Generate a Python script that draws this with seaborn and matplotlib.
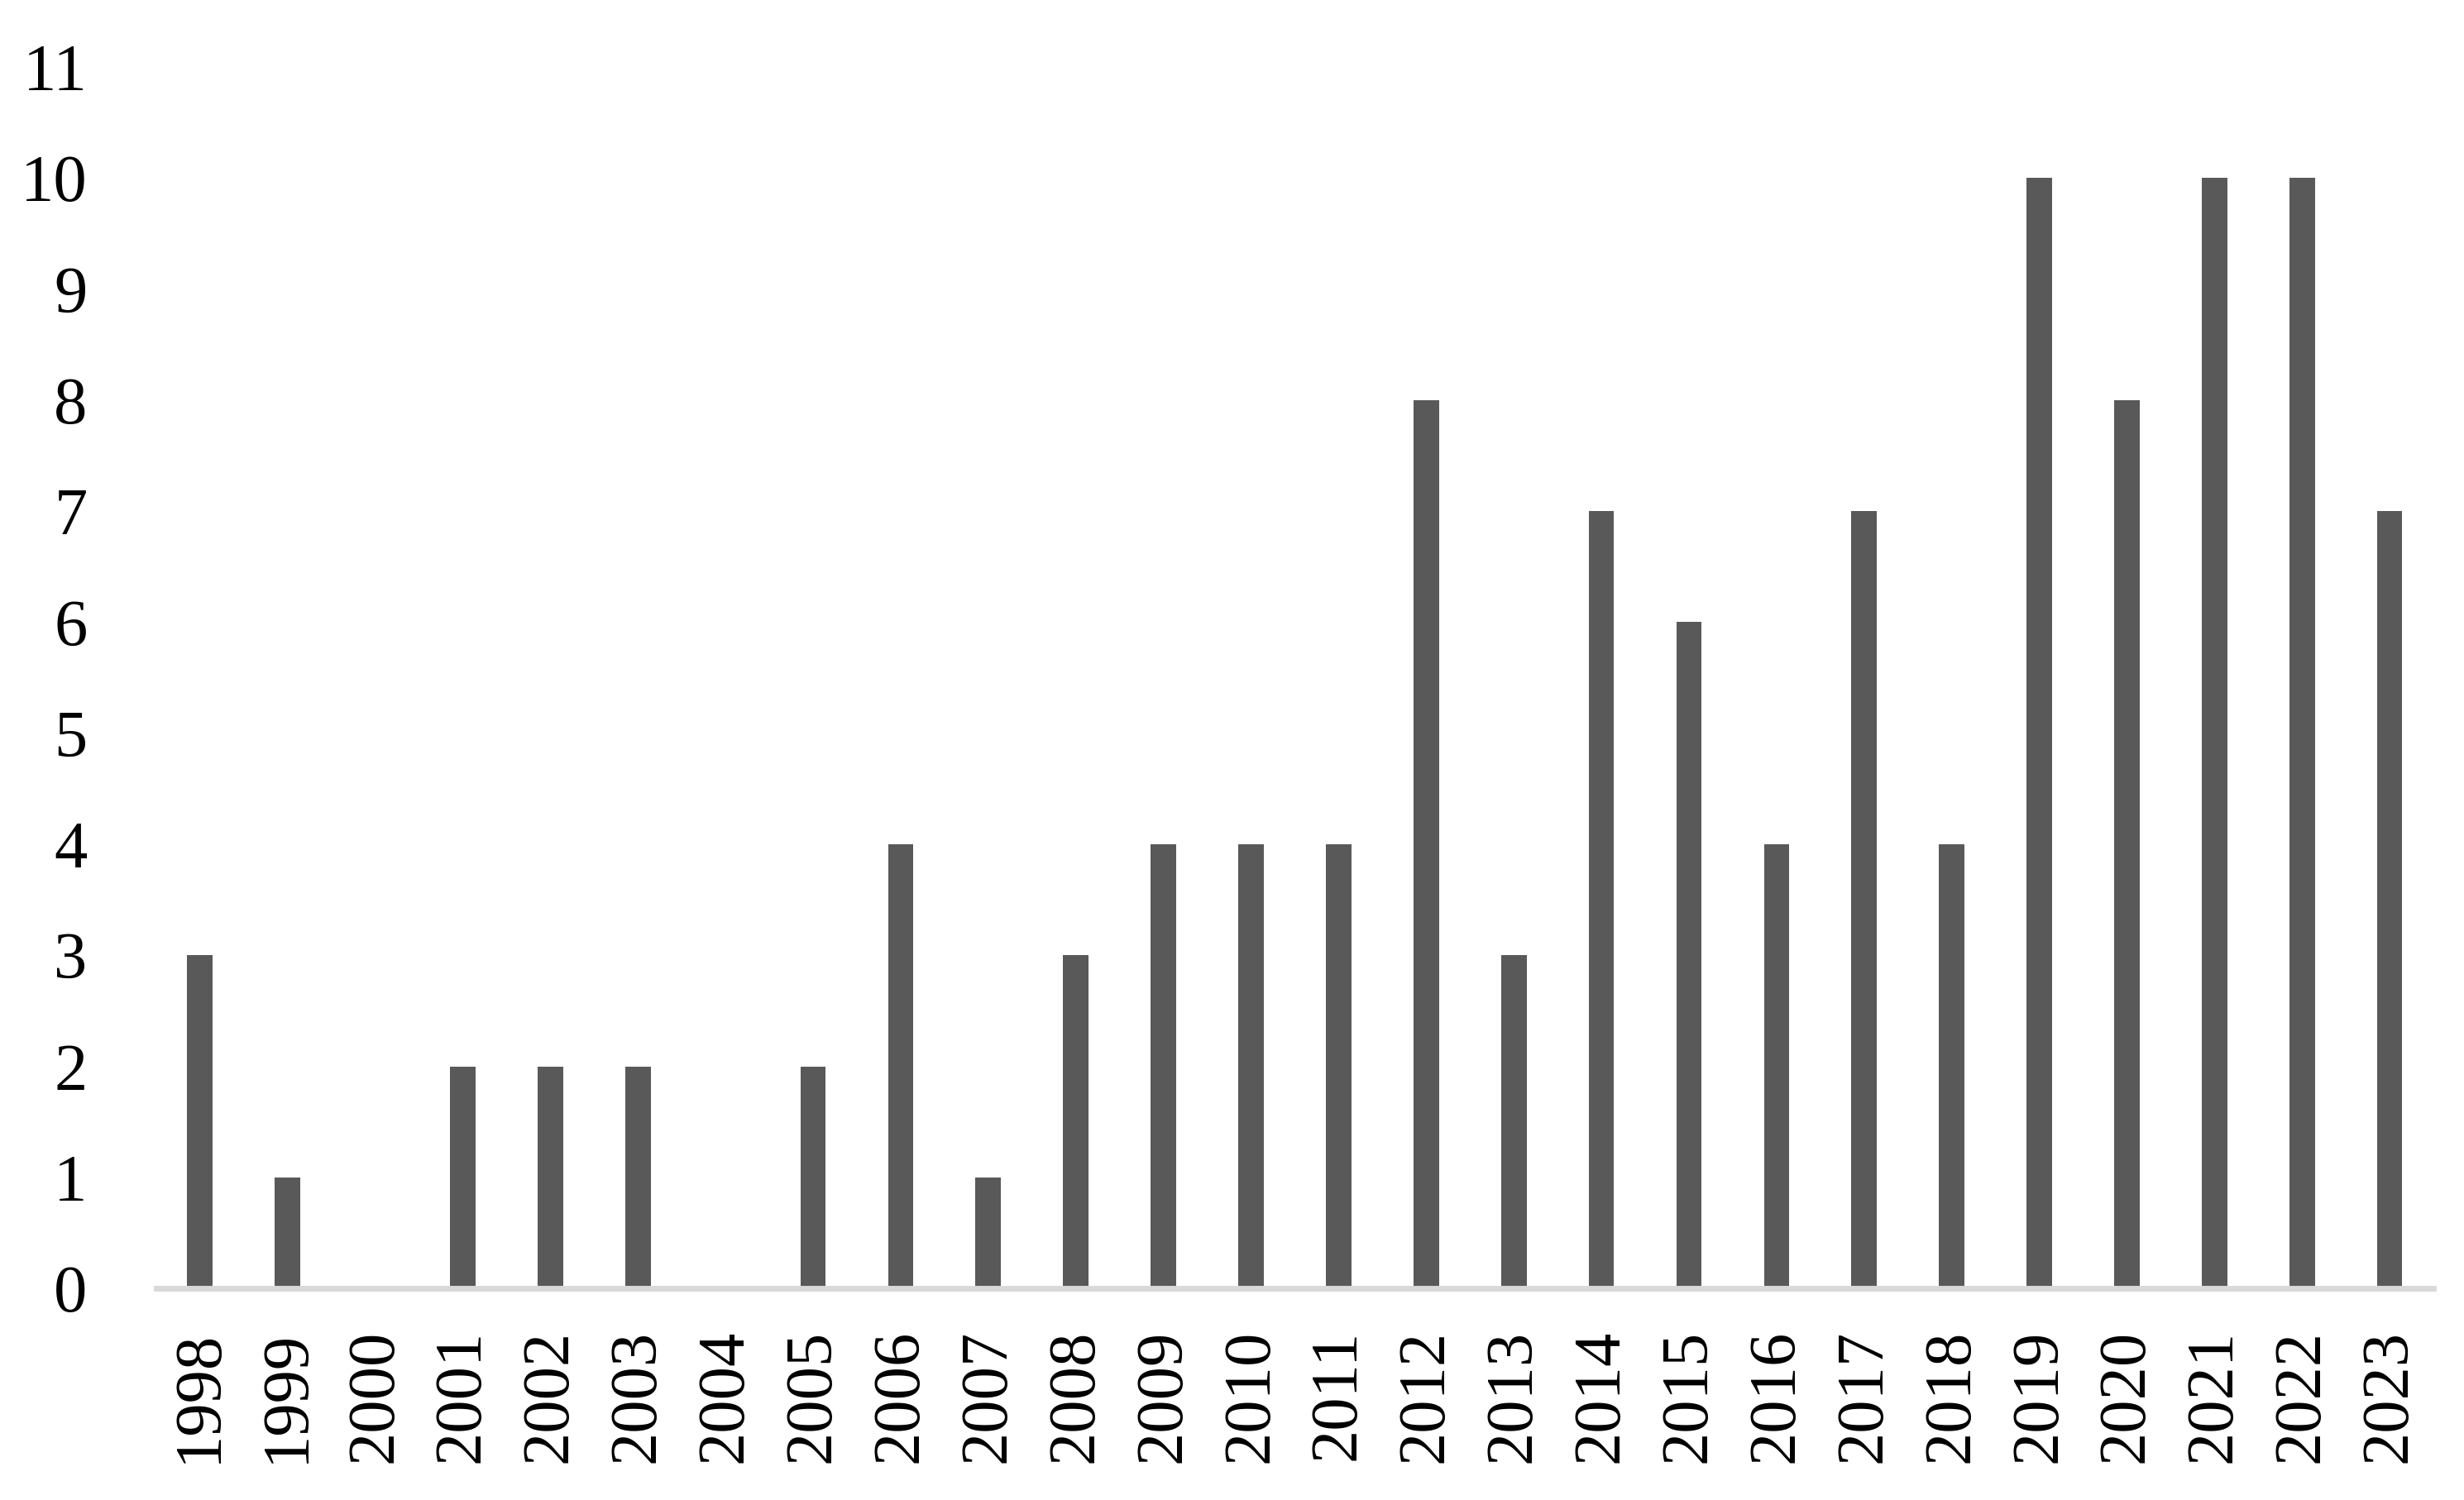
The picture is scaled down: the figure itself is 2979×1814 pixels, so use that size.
import matplotlib
matplotlib.use('Agg')
from matplotlib import pyplot as plt
import seaborn as sns
import pandas as pd

years = [str(y) for y in range(1998, 2024)]
counts = [3, 1, 0, 2, 2, 2, 0, 2, 4, 1, 3, 4, 4, 4, 8, 3, 7, 6, 4, 7, 4, 10, 8, 10, 10, 7]
y_ticks = list(range(0, 12))


def main():
    sns.set_style('white')
    plt.rcParams['font.family'] = ['Liberation Serif', 'DejaVu Serif']

    df = pd.DataFrame({'year': years, 'count': counts})

    fig = plt.figure(figsize=(29.79, 18.14), dpi=100)
    ax = fig.add_axes([0.0634, 0.1411, 0.9876 - 0.0634, 0.9553 - 0.1411])
    sns.barplot(data=df, x='year', y='count', color='#595959', width=0.29,
                saturation=1, edgecolor='#595959', linewidth=0, ax=ax)

    ax.set_ylim(0, 11)
    ax.set_xlim(-0.5, len(years) - 0.5)
    ax.set_yticks(y_ticks)
    ax.set_yticklabels([str(t) for t in y_ticks])
    ax.set_xlabel('')
    ax.set_ylabel('')
    ax.tick_params(axis='y', length=0, pad=60, labelsize=58, labelcolor='black')
    ax.tick_params(axis='x', length=0, pad=36, labelsize=58, labelrotation=90,
                   labelcolor='black')

    for side in ['top', 'right', 'left']:
        ax.spines[side].set_visible(False)
    ax.spines['bottom'].set_color('#d9d9d9')
    ax.spines['bottom'].set_linewidth(5)

    fig.savefig('out.png', dpi=100)


if __name__ == '__main__':
    main()
